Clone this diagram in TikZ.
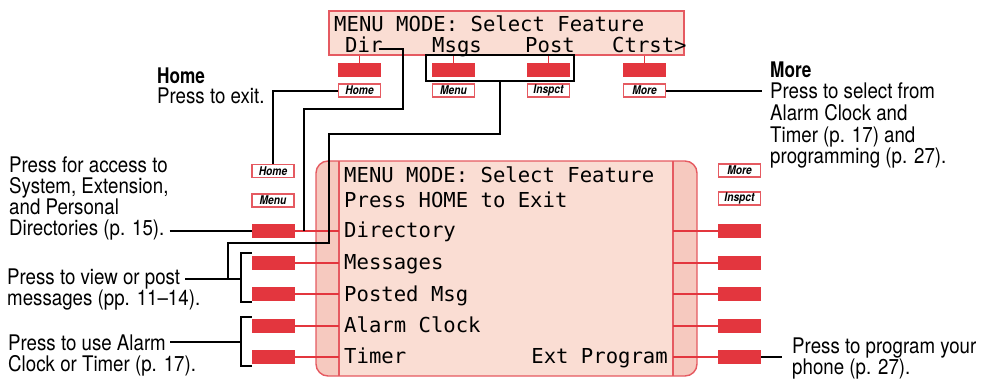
\documentclass[tikz,border=0pt]{standalone}
\usepackage{fontspec}
\setmainfont{TeX Gyre Heros}[UprightFeatures={FakeStretch=0.87}, BoldFeatures={FakeStretch=0.8}, BoldItalicFeatures={FakeStretch=0.85}]
\newfontfamily\lcd{DejaVu Sans Mono}
\usetikzlibrary{calc}
\definecolor{btnred}{HTML}{E3363E}
\definecolor{lcdfill}{HTML}{FADDD3}
\definecolor{bandfill}{HTML}{F6C9BF}
\definecolor{edgered}{HTML}{E55A61}
\tikzset{
 btn/.style={fill=btnred, minimum width=43pt, minimum height=14pt, inner sep=0pt},
 keylbl/.style={draw=edgered, line width=1.4pt, fill=white, minimum width=42pt, minimum height=13pt, inner sep=0pt, font=\bfseries\itshape\fontsize{12}{12}\selectfont},
 lcdtxt/.style={inner sep=0pt, anchor=base west, font=\lcd\fontsize{20.6}{22}\selectfont},
 note/.style={inner sep=0pt, anchor=base west, font=\fontsize{21.5}{21.5}\selectfont},
 notehead/.style={inner sep=0pt, anchor=base west, font=\bfseries\fontsize{21.5}{21.5}\selectfont},
 blk/.style={line width=2pt, black},
 redln/.style={line width=1.6pt, btnred},
 edgeln/.style={draw=edgered, line width=1.4pt}
}
\begin{document}
\begin{tikzpicture}[x=1pt, y=-1pt]
\useasboundingbox (0,0) rectangle (984,378);

% ---- top display
\node[edgeln, fill=lcdfill, minimum width=355pt, minimum height=44pt, inner sep=0pt] (topdisp) at (506.5,33) {};
\node[lcdtxt] (toptxt) at (334,31) {MENU MODE: Select Feature};
\node[lcdtxt] (dirtxt) at (345,52) {Dir};
\node[lcdtxt] (msgstxt) at (432,52) {Msgs};
\node[lcdtxt] (posttxt) at (525,52) {Post};
\node[lcdtxt] (ctrsttxt) at (612,52) {Ctrst>};

% top buttons and labels
\foreach \x/\t [count=\i] in {359.5/Home, 453.5/Menu, 548.5/Inspct, 644.5/More} {
  \node[btn] (tb\i) at (\x,70) {};
  \node[keylbl] (tl\i) at (\x,90.5) {\t};
  \draw[redln] (tb\i.north) -- (tb\i.north |- topdisp.south);
}

% ---- big display
\fill[bandfill, rounded corners=12pt] (316,161) rectangle (697,376);
\fill[lcdfill] (339,161) rectangle (673,376);
\draw[edgeln, rounded corners=12pt] (316,161) rectangle (697,376);
\draw[edgeln] (339,161) -- (339,376);
\draw[edgeln] (673,161) -- (673,376);
\coordinate (inL) at (339,268);
\coordinate (inR) at (673,268);

\node[lcdtxt] (d1) at (344,182) {MENU MODE: Select Feature};
\node[lcdtxt] (d2) at (344,207) {Press HOME to Exit};
\node[lcdtxt] (d3) at (344,237) {Directory};
\node[lcdtxt] (d4) at (344,269) {Messages};
\node[lcdtxt] (d5) at (344,301) {Posted Msg};
\node[lcdtxt] (d6) at (344,332) {Alarm Clock};
\node[lcdtxt] (d7) at (344,363) {Timer};
\node[lcdtxt, anchor=base east] (d8) at (668,363) {Ext Program};

% side buttons
\foreach \y [count=\i] in {231,263,294,326,357} {
  \node[btn] (lb\i) at (273.5,\y) {};
  \node[btn] (rb\i) at (739.5,\y) {};
  \draw[redln] (lb\i.east) -- (lb\i.east -| inL);
  \draw[redln] (rb\i.west) -- (rb\i.west -| inR);
}
\node[keylbl] (lhome) at (273,171) {Home};
\node[keylbl] (lmenu) at (273,200.5) {Menu};
\node[keylbl] (rmore) at (739.5,170.5) {More};
\node[keylbl] (rinsp) at (739.5,198.5) {Inspct};

% ---- annotations
\node[notehead] (home0) at (157,83) {Home};
\node[note] (home1) at (157,103) {Press to exit.};

\node[notehead] (more0) at (770,77) {More};
\node[note] (more1) at (770,98) {Press to select from};
\node[note] (more2) at (770,120) {Alarm Clock and};
\node[note] (more3) at (770,142) {Timer (p. 17) and};
\node[note] (more4) at (770,163) {programming (p. 27).};

\node[note] (acc1) at (9,172) {Press for access to};
\node[note] (acc2) at (9,193) {System, Extension,};
\node[note] (acc3) at (9,214) {and Personal};
\node[note] (acc4) at (9,235) {Directories (p. 15).};

\node[note] (msg1) at (7,284) {Press to view or post};
\node[note] (msg2) at (7,305) {messages (pp. 11–14).};

\node[note] (alm1) at (8,350) {Press to use Alarm};
\node[note] (alm2) at (8,371) {Clock or Timer (p. 17).};

\node[note] (prog1) at (792,353) {Press to program your};
\node[note] (prog2) at (792,374) {phone (p. 27).};

% ---- black connectors
\node[draw, line width=2pt, minimum width=148pt, minimum height=26pt, inner sep=0pt] (brk) at (500,68) {};
\draw[blk] ([xshift=-4pt,yshift=3pt]dirtxt.base east) -- (403,49) -- (403,109) -- (304,109) -- (304,0 |- lb1.east);
\draw[blk] (tl1.west) -| (lhome.north);
\draw[blk] ([xshift=5pt]acc4.east |- lb1.west) -- (lb1.west);

\coordinate (mbrk) at ($(lb2.west)!0.5!(lb3.west)+(-11,0)$);
\coordinate (abrk) at ($(lb4.west)!0.5!(lb5.west)+(-11,0)$);
\draw[blk] (brk.south) -- (brk.south |- 0,134) -- (329,134) -- (329,243) -- (228,243) -- (228,0 |- mbrk);
\draw[blk] ([yshift=3pt]lb2.north west) -- ([xshift=-11pt,yshift=3pt]lb2.north west) -- ([xshift=-11pt,yshift=-1pt]lb3.south west) -- ([yshift=-1pt]lb3.south west);
\draw[blk] ([xshift=5pt]msg1.east |- mbrk) -- (mbrk);
\draw[blk] ([yshift=2pt]lb4.north west) -- ([xshift=-11pt,yshift=2pt]lb4.north west) -- ([xshift=-11pt,yshift=-2pt]lb5.south west) -- ([yshift=-2pt]lb5.south west);
\draw[blk] ([xshift=4pt]alm1.east |- abrk) -- (abrk);

\draw[blk] (tl4.east) -- ([xshift=-8pt]more0.west |- tl4.east);
\draw[blk] (rb5.east) -- ([xshift=-10pt]prog1.west |- rb5.east);
\end{tikzpicture}
\end{document}
